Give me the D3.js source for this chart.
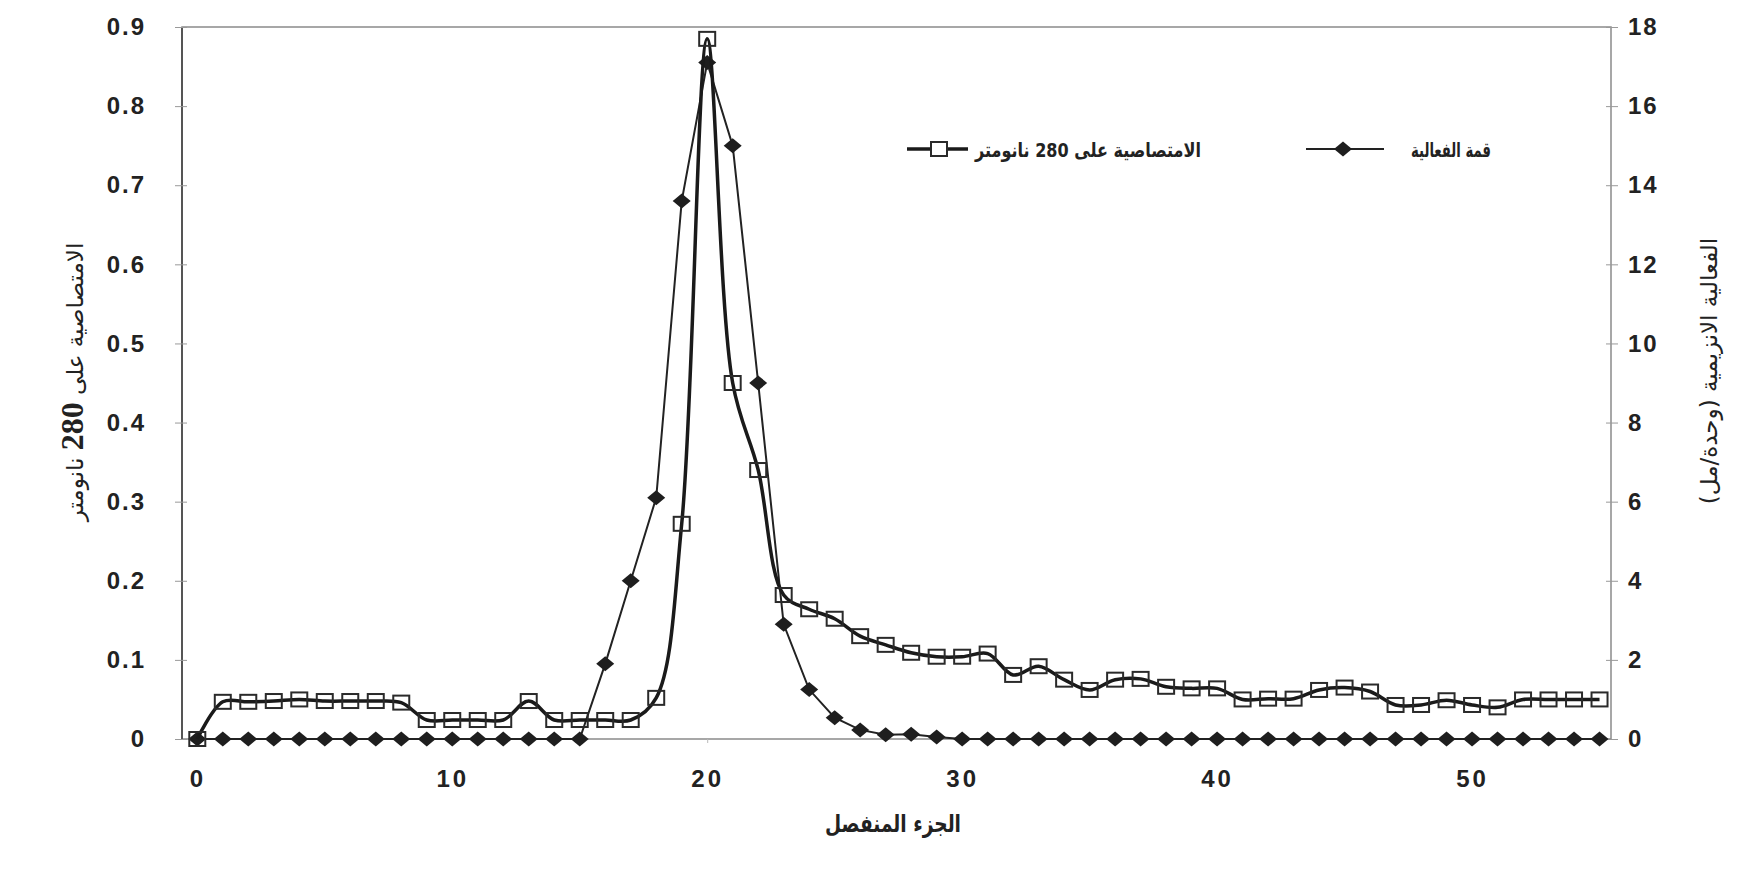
<!DOCTYPE html>
<html>
<head>
<meta charset="utf-8">
<script src="https://cdn.jsdelivr.net/npm/d3@7"></script>
<style>
  body { margin: 0; background: #fff; }
  svg { display: block; }
</style>
</head>
<body>
<div id="chart"></div>
<script>
// fraction numbers
const fractions = d3.range(0, 56);

// absorbance at 280 nm (left axis)
const absorbance = [0, 0.047, 0.047, 0.048, 0.050, 0.048, 0.048, 0.048, 0.046, 0.024,
  0.024, 0.024, 0.024, 0.048, 0.024, 0.024, 0.024, 0.024, 0.052, 0.272,
  0.885, 0.450, 0.340, 0.182, 0.164, 0.152, 0.130, 0.119, 0.109, 0.104,
  0.104, 0.108, 0.081, 0.092, 0.075, 0.062, 0.075, 0.076, 0.066, 0.064,
  0.064, 0.050, 0.051, 0.051, 0.062, 0.065, 0.060, 0.043, 0.043, 0.049,
  0.043, 0.040, 0.050, 0.050, 0.050, 0.050];

// enzyme activity, units/ml (right axis)
const activity = [0, 0, 0, 0, 0, 0, 0, 0, 0, 0,
  0, 0, 0, 0, 0, 0, 1.9, 4.0, 6.1, 13.6,
  17.1, 15.0, 9.0, 2.9, 1.25, 0.54, 0.23, 0.11, 0.12, 0.05,
  0, 0, 0, 0, 0, 0, 0, 0, 0, 0,
  0, 0, 0, 0, 0, 0, 0, 0, 0, 0,
  0, 0, 0, 0, 0, 0];

const leftTicks = [0, 0.1, 0.2, 0.3, 0.4, 0.5, 0.6, 0.7, 0.8, 0.9];
const rightTicks = [0, 2, 4, 6, 8, 10, 12, 14, 16, 18];
const xTicks = [0, 10, 20, 30, 40, 50];

const seriesNames = ["الامتصاصية على 280 نانومتر", "قمة الفعالية"];
const xTitle = "الجزء المنفصل";
const rightTitle = "الفعالية الانزيمية (وحدة/مل)";

const width = 1761, height = 871;
const plotL = 182, plotR = 1611, plotT = 27, plotB = 739;

const svg = d3.select("#chart").append("svg")
  .attr("width", width)
  .attr("height", height);

const x = d3.scaleLinear().domain([-0.6, 55.45]).range([plotL, plotR]);
const yL = d3.scaleLinear().domain([0, 0.9]).range([plotB, plotT]);
const yR = d3.scaleLinear().domain([0, 18]).range([plotB, plotT]);

const tickFont = "'Liberation Sans', Arial, sans-serif";
const arabicFont = "'DejaVu Sans', 'Liberation Sans', sans-serif";

// plot frame
svg.append("rect")
  .attr("x", plotL).attr("y", plotT)
  .attr("width", plotR - plotL).attr("height", plotB - plotT)
  .attr("fill", "none")
  .attr("stroke", "#8a8a8a")
  .attr("stroke-width", 1.5);
svg.append("line")
  .attr("x1", plotL).attr("x2", plotL).attr("y1", plotT).attr("y2", plotB)
  .attr("stroke", "#555").attr("stroke-width", 2);

// left axis
const gL = svg.append("g")
  .attr("transform", `translate(${plotL},0)`)
  .call(d3.axisLeft(yL).tickValues(leftTicks)
    .tickFormat(d => d === 0 ? "0" : d.toFixed(1))
    .tickSizeInner(7).tickSizeOuter(0).tickPadding(29));
gL.select(".domain").remove();
gL.selectAll(".tick line").attr("x1", 5).attr("stroke", "#999");
gL.selectAll("text")
  .attr("font-family", tickFont).attr("font-size", 24).attr("font-weight", "bold")
  .attr("letter-spacing", 2).attr("fill", "#222");

// right axis
const gR = svg.append("g")
  .attr("transform", `translate(${plotR},0)`)
  .call(d3.axisRight(yR).tickValues(rightTicks)
    .tickSizeInner(7).tickSizeOuter(0).tickPadding(10));
gR.select(".domain").remove();
gR.selectAll(".tick line").attr("x1", -5).attr("stroke", "#999");
gR.selectAll("text")
  .attr("font-family", tickFont).attr("font-size", 24).attr("font-weight", "bold")
  .attr("letter-spacing", 2).attr("fill", "#222");

// bottom axis
const gX = svg.append("g")
  .attr("transform", `translate(0,${plotB})`)
  .call(d3.axisBottom(x).tickValues(xTicks).tickSizeInner(4).tickSizeOuter(0));
gX.select(".domain").remove();
gX.selectAll(".tick line").attr("stroke", "#bbb");
gX.selectAll("text")
  .attr("y", 48).attr("dy", 0)
  .attr("font-family", tickFont).attr("font-size", 24).attr("font-weight", "bold")
  .attr("letter-spacing", 3).attr("fill", "#222");

// activity series: thin straight line with filled diamonds
const actLine = d3.line()
  .x((d, i) => x(fractions[i]))
  .y(d => yR(d));
svg.append("path")
  .datum(activity)
  .attr("d", actLine)
  .attr("fill", "none")
  .attr("stroke", "#222")
  .attr("stroke-width", 2);

const diamond = (cx, cy) => `M${cx},${cy - 7.5}L${cx + 9},${cy}L${cx},${cy + 7.5}L${cx - 9},${cy}Z`;
svg.append("g").selectAll("path")
  .data(activity)
  .join("path")
  .attr("d", (d, i) => diamond(x(fractions[i]), yR(d)))
  .attr("fill", "#1e1e1e");

// absorbance series: thick smoothed line with open squares
const absLine = d3.line()
  .x((d, i) => x(fractions[i]))
  .y(d => yL(d))
  .curve(d3.curveCatmullRom.alpha(0.5));
svg.append("path")
  .datum(absorbance)
  .attr("d", absLine)
  .attr("fill", "none")
  .attr("stroke", "#1a1a1a")
  .attr("stroke-width", 3.5);

svg.append("g").selectAll("rect")
  .data(absorbance)
  .join("rect")
  .attr("x", (d, i) => x(fractions[i]) - 8)
  .attr("y", d => yL(d) - 7)
  .attr("width", 16)
  .attr("height", 14)
  .attr("fill", "none")
  .attr("stroke", "#2a2a2a")
  .attr("stroke-width", 2);

// legend
const lg = svg.append("g");
lg.append("line").attr("x1", 907).attr("x2", 968).attr("y1", 149).attr("y2", 149)
  .attr("stroke", "#1a1a1a").attr("stroke-width", 3.5);
lg.append("rect").attr("x", 931).attr("y", 142).attr("width", 16).attr("height", 14)
  .attr("fill", "#fff").attr("stroke", "#2a2a2a").attr("stroke-width", 2);
lg.append("text").attr("x", 1088).attr("y", 157)
  .attr("text-anchor", "middle").attr("direction", "rtl")
  .attr("font-family", arabicFont).attr("font-size", 20).attr("font-weight", "bold")
  .attr("textLength", 226).attr("lengthAdjust", "spacingAndGlyphs")
  .attr("fill", "#222").text(seriesNames[0]);

lg.append("line").attr("x1", 1306).attr("x2", 1384).attr("y1", 149).attr("y2", 149)
  .attr("stroke", "#222").attr("stroke-width", 2);
lg.append("path").attr("d", diamond(1343, 149)).attr("fill", "#1e1e1e");
lg.append("text").attr("x", 1451).attr("y", 157)
  .attr("text-anchor", "middle").attr("direction", "rtl")
  .attr("font-family", arabicFont).attr("font-size", 20).attr("font-weight", "bold")
  .attr("textLength", 80).attr("lengthAdjust", "spacingAndGlyphs")
  .attr("fill", "#222").text(seriesNames[1]);

// axis titles
svg.append("text")
  .attr("x", 893).attr("y", 832)
  .attr("text-anchor", "middle").attr("direction", "rtl")
  .attr("font-family", arabicFont).attr("font-size", 24).attr("font-weight", "bold")
  .attr("textLength", 136).attr("lengthAdjust", "spacingAndGlyphs")
  .attr("fill", "#222").text(xTitle);

const lt = svg.append("text")
  .attr("transform", "translate(83,382) rotate(-90)")
  .attr("text-anchor", "middle").attr("direction", "rtl")
  .attr("font-family", arabicFont).attr("font-size", 23)
  .attr("fill", "#222");
lt.append("tspan").text("الامتصاصية على ");
lt.append("tspan").attr("font-family", "'Liberation Serif', serif")
  .attr("font-weight", "bold").attr("font-size", 32).text("280");
lt.append("tspan").text(" نانومتر");

svg.append("text")
  .attr("transform", "translate(1717,371) rotate(-90)")
  .attr("text-anchor", "middle").attr("direction", "rtl")
  .attr("font-family", arabicFont).attr("font-size", 23)
  .attr("fill", "#222").text(rightTitle);
</script>
</body>
</html>
